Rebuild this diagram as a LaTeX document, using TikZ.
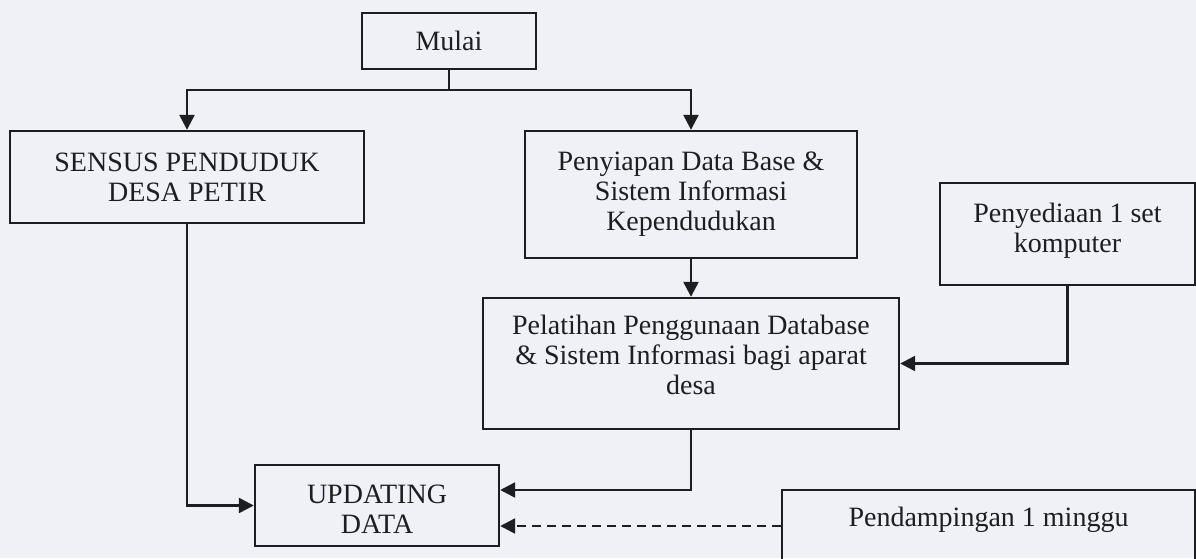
\documentclass[tikz,border=0pt]{standalone}
\usepackage{fontspec}
\setmainfont{Liberation Serif}
\usepackage{tikz}
\usetikzlibrary{arrows.meta}

\definecolor{kertas}{RGB}{240,241,247}
\definecolor{tinta}{RGB}{30,30,32}

\tikzset{
	kotak/.style={draw=tinta, line width=2.4pt, rectangle, align=center, text=tinta, inner sep=0pt},
	alur/.style={draw=tinta, line width=2.4pt, -{Triangle[length=15pt, width=15pt]}},
}

\begin{document}
\begin{tikzpicture}[x=1pt, y=-1pt, font=\fontsize{28}{30}\selectfont]
		\useasboundingbox[fill=kertas] (0, 0) rectangle (1196, 558);
		% kotak-kotak
		\node[kotak, minimum width=174, minimum height=56] (mulai) at (449, 41) {Mulai};
		\node[kotak, minimum width=354, minimum height=92] (sensus) at (187, 177) {SENSUS PENDUDUK\\DESA PETIR};
		\node[kotak, minimum width=332, minimum height=127] (penyiapan) at (691, 194.5) {Penyiapan Data Base \&\\Sistem Informasi\\Kependudukan};
		\node[kotak, minimum width=255, minimum height=102, text depth=13pt] (penyediaan) at (1067.5, 234) {Penyediaan 1 set\\komputer};
		\node[kotak, minimum width=416, minimum height=131, text depth=17pt] (pelatihan) at (691, 363.5) {Pelatihan Penggunaan Database\\\& Sistem Informasi bagi aparat\\desa};
		\node[kotak, minimum width=244, minimum height=81, text height=55pt, text depth=0pt] (updating) at (377, 505.5) {UPDATING\\DATA};
		\node[kotak, minimum width=413, anchor=north, inner ysep=17pt, text height=19pt, text depth=70pt] (pendampingan) at (988.5, 489) {Pendampingan 1 minggu};
		% garis alur
		\coordinate (cabang) at (449, 90);
		\coordinate (masuk1) at ([yshift=15.5pt]updating.east);
		\coordinate (masuk2) at ([yshift=-20.5pt]updating.east);
		\draw[alur] (mulai.south) -- (cabang) -| (sensus.north);
		\draw[alur] (cabang) -| (penyiapan.north);
		\draw[alur] (penyiapan.south) -- (pelatihan.north);
		\draw[alur] (penyediaan.south) |- (pelatihan.east);
		\draw[alur] (sensus.south) |- (updating.west);
		\draw[alur] (pelatihan.south) |- (masuk1);
		\draw[alur, dash pattern=on 9pt off 6pt] (masuk2 -| pendampingan.west) -- (masuk2);
	\end{tikzpicture}
\end{document}
